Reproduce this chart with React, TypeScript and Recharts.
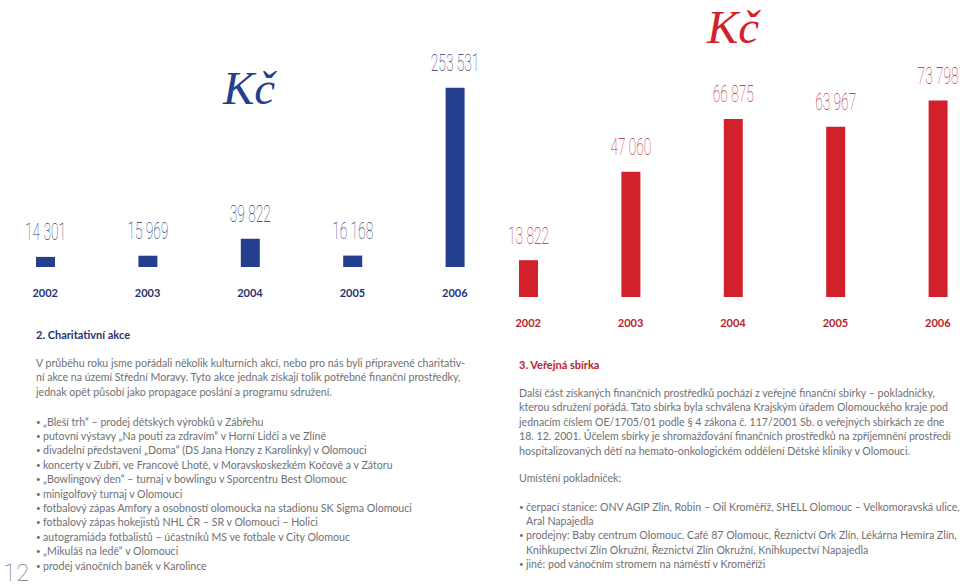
import React from 'react';
import { Bar, BarChart, LabelList, XAxis, YAxis } from 'recharts';

const YEARS = ['2002', '2003', '2004', '2005', '2006'];
const CHARITY = [14301, 15969, 39822, 16168, 253531];
const COLLECTION = [13822, 47060, 66875, 63967, 73798];

const BLUE = '#243f8d';
const BLUE_TEXT = '#1f3372';
const RED = '#d3212c';
const RED_TEXT = '#b81d2a';
const GRAY = '#6f7073';

const FONT = 'Lato, "Open Sans", sans-serif';
const HAND = 'Roboto, sans-serif';

const CHARITY_INTRO = [
  'V průběhu roku jsme pořádali několik kulturních akcí, nebo pro nás byli připravené charitativ-',
  'ní akce na území Střední Moravy. Tyto akce jednak získají tolik potřebné finanční prostředky,',
  'jednak opět působí jako propagace poslání a programu sdružení.',
];
const CHARITY_EVENTS = [
  '„Bleší trh“ – prodej dětských výrobků v Zábřehu',
  'putovní výstavy „Na pouti za zdravím“ v Horní Lidči a ve Zlíně',
  'divadelní představení „Doma“ (DS Jana Honzy z Karolinky) v Olomouci',
  'koncerty v Zubří, ve Francově Lhotě, v Moravskoskezkém Kočově a v Zátoru',
  '„Bowlingový den“ – turnaj v bowlingu v Sporcentru Best Olomouc',
  'minigolfový turnaj v Olomouci',
  'fotbalový zápas Amfory a osobností olomoucka na stadionu SK Sigma Olomouci',
  'fotbalový zápas hokejistů NHL ČR – SR v Olomouci – Holici',
  'autogramiáda fotbalistů – účastníků MS ve fotbale v City Olomouc',
  '„Mikuláš na ledě“ v Olomouci',
  'prodej vánočních baněk v Karolince',
];
const COLLECTION_INTRO = [
  'Další část získaných finančních prostředků pochází z veřejné finanční sbírky – pokladničky,',
  'kterou sdružení pořádá. Tato sbírka byla schválena Krajským úřadem Olomouckého kraje pod',
  'jednacím číslem OE/1705/01 podle § 4 zákona č. 117/2001 Sb. o veřejných sbírkách ze dne',
  '18. 12. 2001. Účelem sbírky je shromažďování finančních prostředků na zpříjemnění prostředí',
  'hospitalizovaných dětí na hemato-onkologickém oddělení Dětské kliniky v Olomouci.',
];
const COLLECTION_PLACES = [
  ['čerpací stanice:  ONV AGIP Zlín, Robin – Oil Kroměříž, SHELL Olomouc – Velkomoravská ulice,', 'Aral Napajedla'],
  ['prodejny: Baby centrum Olomouc, Café 87 Olomouc, Řeznictví Ork Zlín, Lékárna Hemíra Zlín,', 'Knihkupectví Zlín Okružní, Řeznictví Zlín Okružní, Knihkupectví Napajedla'],
  ['jiné: pod vánočním stromem na náměstí v Kroměříži'],
];

const fmt = (v: number) => String(v).replace(/\B(?=(\d{3})+(?!\d))/g, ' ');

// narrow, thin "handwritten" value above each bar
const makeLabel = (color: string) => (props: any) => {
  const { x, y, width, value } = props;
  return (
    <text
      transform={`translate(${x + width / 2},${y - 24.5}) scale(0.6,1)`}
      textAnchor="middle"
      dominantBaseline="central"
      fontFamily={HAND}
      fontWeight={100}
      fontSize={23}
      fill={color}
    >
      {fmt(value)}
    </text>
  );
};

const makeTick = (color: string) => (props: any) => {
  const { x, y, payload } = props;
  return (
    <text
      x={x}
      y={y + 25.5}
      textAnchor="middle"
      dominantBaseline="central"
      fontFamily={FONT}
      fontWeight={700}
      fontSize={11}
      fill={color}
    >
      {payload.value}
    </text>
  );
};

function YearBars({
  values,
  color,
  textColor,
  height,
  top,
  max,
}: {
  values: number[];
  color: string;
  textColor: string;
  height: number;
  top: number;
  max: number;
}) {
  const data = YEARS.map((year, i) => ({ year, value: values[i] }));
  return (
    <BarChart width={512} height={height} data={data} margin={{ top, right: 0, bottom: 3, left: 0 }}>
      <XAxis
        dataKey="year"
        axisLine={false}
        tickLine={false}
        tickSize={0}
        tickMargin={0}
        height={30}
        tick={makeTick(textColor)}
        interval={0}
      />
      <YAxis hide domain={[0, max]} />
      <Bar dataKey="value" fill={color} barSize={19} isAnimationActive={false}>
        <LabelList dataKey="value" content={makeLabel(textColor)} />
      </Bar>
    </BarChart>
  );
}

const abs = (left: number, top: number): React.CSSProperties => ({ position: 'absolute', left, top });

function Lines({ lines, left, top }: { lines: string[]; left: number; top: number }) {
  return (
    <div style={{ ...abs(left, top), fontFamily: FONT, fontSize: 10.6, lineHeight: '14.4px', color: GRAY, whiteSpace: 'nowrap' }}>
      {lines.map((l) => (
        <div key={l}>{l}</div>
      ))}
    </div>
  );
}

function Bullets({ items, left, top }: { items: string[][]; left: number; top: number }) {
  return (
    <div style={{ ...abs(left, top), fontFamily: FONT, fontSize: 10.6, lineHeight: '14.4px', color: GRAY, whiteSpace: 'nowrap' }}>
      {items.map((item) => (
        <div key={item[0]} style={{ display: 'flex' }}>
          <span style={{ width: 7, fontSize: 8 }}>•</span>
          <div>
            {item.map((l) => (
              <div key={l}>{l}</div>
            ))}
          </div>
        </div>
      ))}
    </div>
  );
}

const kc: React.CSSProperties = {
  fontFamily: '"Liberation Serif", serif',
  fontStyle: 'italic',
  fontSize: 47,
  padding: '0 4px',
};

export default function App() {
  return (
    <div style={{ position: 'absolute', left: 0, top: 0, width: 960, height: 586, overflow: 'hidden', background: '#fff' }}>
      <div style={abs(477, 0)}>
        <YearBars values={COLLECTION} color={RED} textColor={RED_TEXT} height={330} top={84} max={80000} />
      </div>
      <div style={{ ...abs(-6, 0), zIndex: 1 }}>
        <YearBars values={CHARITY} color={BLUE} textColor={BLUE_TEXT} height={300} top={55} max={300000} />
      </div>

      <div style={{ ...abs(219, 61), ...kc, color: BLUE }}>Kč</div>
      <div style={{ ...abs(703, 0), ...kc, color: RED }}>Kč</div>

      <div style={{ ...abs(36, 328), fontFamily: FONT, fontWeight: 700, fontSize: 11, lineHeight: '14.4px', color: BLUE_TEXT }}>
        2. Charitativní akce
      </div>
      <Lines lines={CHARITY_INTRO} left={36} top={356} />
      <Bullets items={CHARITY_EVENTS.map((e) => [e])} left={36} top={414.5} />

      <div style={{ ...abs(519, 358), fontFamily: FONT, fontWeight: 700, fontSize: 11, lineHeight: '14.4px', color: RED_TEXT }}>
        3. Veřejná sbírka
      </div>
      <Lines lines={COLLECTION_INTRO} left={519} top={386} />
      <Lines lines={['Umístění pokladniček:']} left={519} top={471} />
      <Bullets items={COLLECTION_PLACES} left={519} top={499.5} />

      <div style={{ ...abs(3, 561), fontFamily: HAND, fontWeight: 100, fontSize: 24, lineHeight: '24px', color: '#777' }}>
        12
      </div>
    </div>
  );
}
